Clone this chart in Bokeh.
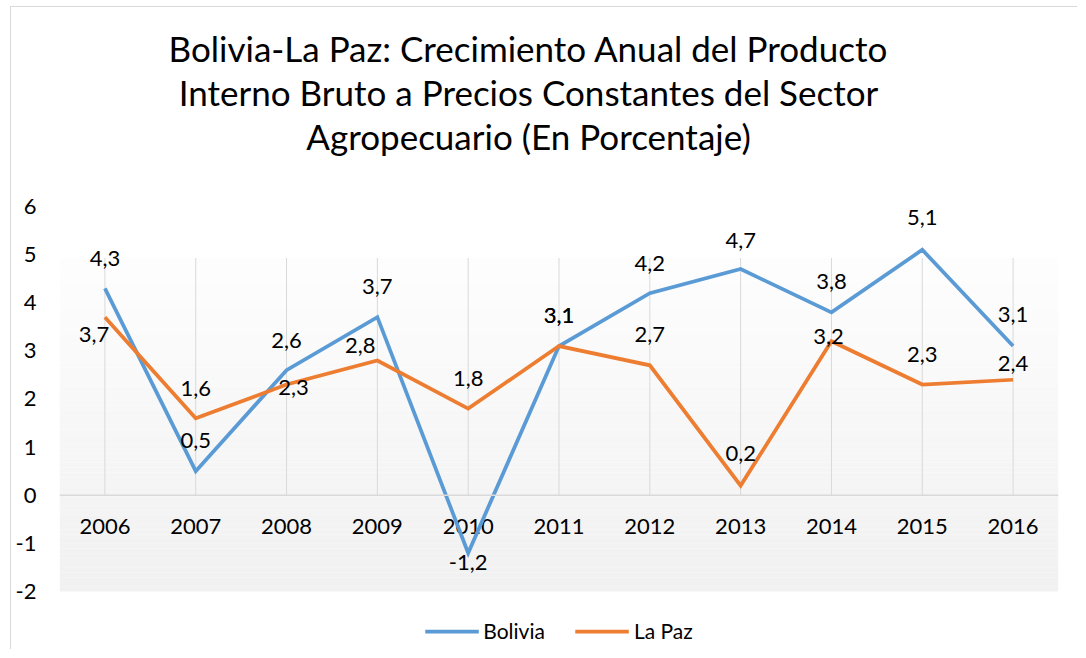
import numpy as np
from bokeh.plotting import figure
from bokeh.models import Range1d, FixedTicker, Label, Legend, LegendItem, Span
from bokeh.core.properties import value
from bokeh.embed import file_html
from bokeh.resources import INLINE

# ---------------- data ----------------
years = [2006, 2007, 2008, 2009, 2010, 2011, 2012, 2013, 2014, 2015, 2016]
year_labels = [str(y) for y in years]
bolivia = [4.3, 0.5, 2.6, 3.7, -1.2, 3.1, 4.2, 4.7, 3.8, 5.1, 3.1]
lapaz = [3.7, 1.6, 2.3, 2.8, 1.8, 3.1, 2.7, 0.2, 3.2, 2.3, 2.4]
series_names = ["Bolivia", "La Paz"]
y_ticks = [-2, -1, 0, 1, 2, 3, 4, 5, 6]
y_tick_labels = ["-2", "-1", "0", "1", "2", "3", "4", "5", "6"]
title_lines = [
    "Bolivia-La Paz: Crecimiento Anual del Producto",
    "Interno Bruto a Precios Constantes del Sector",
    "Agropecuario (En Porcentaje)",
]

# ---------------- label placement (pixels) ----------------
bo_dx = [0, 0, 0, 0, 0, 0, 0, 0, 0, 0, 0]
bo_dy = [-30, -31, -30, -31, 10, -31, -30, -29, -31, -32, -32]
lp_dx = [-11, 0, 7, -17, 0, 0, 0, 0, -3, 0, 0]
lp_dy = [17, -30, 3, -15, -30, -31, -31, -32, -5, -30, -16]

# ---------------- styles ----------------
FONT = "Lato"
BLUE = "#5b9bd5"
ORANGE = "#ed7d31"
GRID = "#d9d9d9"
TXT = "#000000"
GRAD_TOP = 4.93
# vertical extent of the drawing area (value units): room for title above 6, legend below -2
Y_LOW, Y_HIGH = -3.226, 10.135

def fmt(v):
    return f"{v:.1f}".replace(".", ",")

p = figure(width=1067, height=643, output_backend="svg", toolbar_location=None,
           x_range=Range1d(2005.5, 2016.5), y_range=Range1d(Y_LOW, Y_HIGH),
           x_axis_location=None, title=None,
           min_border_left=48, min_border_right=20, min_border_top=0,
           min_border_bottom=0)
p.styles = {"margin-left": "10px", "margin-top": "6px",
            "border-left": "1px solid #d9d9d9", "border-top": "1px solid #d9d9d9"}
p.outline_line_color = None
p.background_fill_color = "white"
p.border_fill_color = "white"
p.grid.visible = False

# y axis
ax = p.yaxis[0]
ax.ticker = FixedTicker(ticks=y_ticks)
ax.major_label_overrides = {t: l for t, l in zip(y_ticks, y_tick_labels)}
ax.axis_line_color = None
ax.major_tick_line_color = None
ax.minor_tick_line_color = None
ax.major_tick_out = 0
ax.major_tick_in = 0
ax.major_label_standoff = 23
ax.major_label_text_font = FONT
ax.major_label_text_font_size = "22px"
ax.major_label_text_color = TXT

# gradient plot-area background
n = 70
edges = np.linspace(y_ticks[0], GRAD_TOP, n + 1)
mids = (edges[:-1] + edges[1:]) / 2
t = (mids - edges[0]) / (edges[-1] - edges[0])
greys = (241 + t * (254 - 241)).astype(int)
cols = ["#%02x%02x%02x" % (g, g, g) for g in greys]
p.quad(left=p.x_range.start, right=p.x_range.end, bottom=edges[:-1], top=edges[1:],
       fill_color=cols, line_color=None)

# vertical gridlines and zero line
p.segment(x0=years, y0=0, x1=years, y1=GRAD_TOP, line_color=GRID, line_width=1)
p.add_layout(Span(location=0, dimension="width", line_color=GRID, line_width=1.5))

# category labels along zero line
p.text(x=years, y=0, text=year_labels, y_offset=31, text_align="center",
       text_baseline="middle", text_font=value(FONT), text_font_size="22px",
       text_color=TXT)

# series
r1 = p.line(years, bolivia, line_color=BLUE, line_width=3.75, line_join="miter")
r2 = p.line(years, lapaz, line_color=ORANGE, line_width=3.75, line_join="miter")

# data labels
p.text(x=years, y=bolivia, text=[fmt(v) for v in bolivia], x_offset=bo_dx, y_offset=bo_dy,
       text_align="center", text_baseline="middle", text_font=value(FONT),
       text_font_size="22px", text_color=TXT)
p.text(x=years, y=lapaz, text=[fmt(v) for v in lapaz], x_offset=lp_dx, y_offset=lp_dy,
       text_align="center", text_baseline="middle", text_font=value(FONT),
       text_font_size="22px", text_color=TXT)

# title (three centred lines, screen units from the frame's lower-left corner)
for i, line in enumerate(title_lines):
    p.add_layout(Label(x=469, y=603 - 44 * i, x_units="screen", y_units="screen",
                       text=line, text_align="center", text_baseline="middle",
                       text_font=FONT, text_font_size="35px", text_color=TXT))

# legend
legend = Legend(items=[LegendItem(label=series_names[0], renderers=[r1]),
                       LegendItem(label=series_names[1], renderers=[r2])],
                orientation="horizontal", location="bottom_center",
                glyph_width=54, glyph_height=20, label_standoff=5, spacing=30,
                padding=5, margin=7, border_line_color=None, background_fill_alpha=0,
                label_text_font=FONT, label_text_font_size="21px", label_text_color=TXT)
p.add_layout(legend)

open("out.html", "w").write(file_html(p, INLINE))
